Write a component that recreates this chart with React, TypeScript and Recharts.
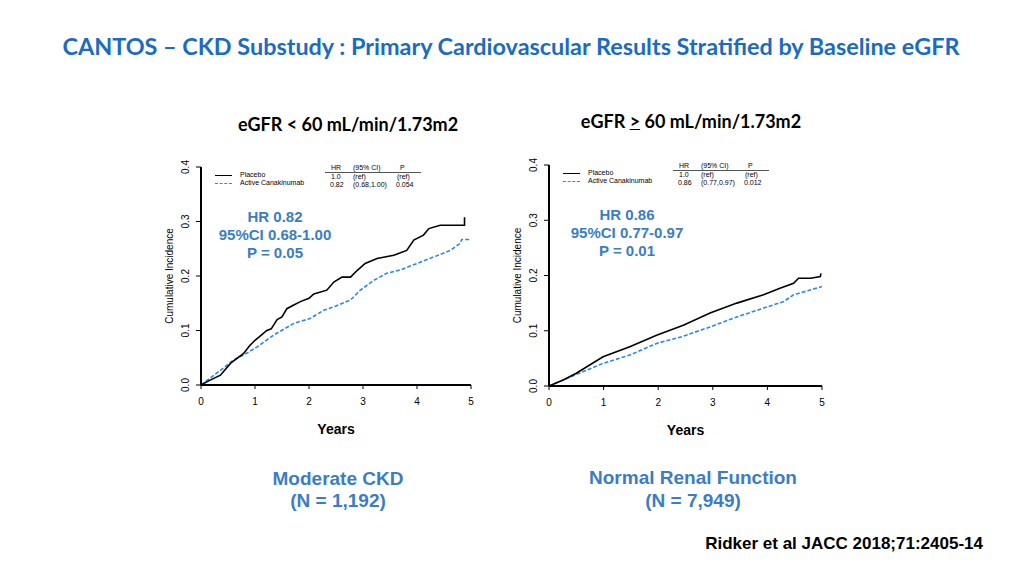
import { Line, LineChart, XAxis, YAxis } from 'recharts';

// Kaplan-Meier style cumulative incidence
const ckdPlaceboYears = [0, 0.15, 0.36, 0.55, 0.79, 0.9, 1.0, 1.1, 1.22, 1.3, 1.41, 1.5, 1.59, 1.7, 1.84, 2.0, 2.09, 2.33, 2.46, 2.61, 2.77, 2.89, 3.04, 3.26, 3.57, 3.81, 3.94, 4.12, 4.22, 4.43, 4.88, 4.88];
const ckdPlaceboRisk = [0, 0.008, 0.018, 0.04, 0.058, 0.072, 0.082, 0.09, 0.1, 0.103, 0.12, 0.125, 0.14, 0.146, 0.153, 0.159, 0.167, 0.174, 0.189, 0.198, 0.198, 0.21, 0.223, 0.232, 0.238, 0.247, 0.266, 0.275, 0.287, 0.293, 0.293, 0.308];
const ckdActiveYears = [0, 0.2, 0.4, 0.6, 0.79, 1.04, 1.35, 1.72, 2.02, 2.27, 2.5, 2.77, 2.95, 3.2, 3.44, 3.69, 4.0, 4.31, 4.62, 4.8, 4.83, 5.0];
const ckdActiveRisk = [0, 0.015, 0.03, 0.046, 0.055, 0.07, 0.092, 0.113, 0.122, 0.137, 0.145, 0.156, 0.174, 0.192, 0.205, 0.211, 0.223, 0.235, 0.247, 0.26, 0.267, 0.267];

const normPlaceboYears = [0, 0.26, 0.5, 0.99, 1.48, 1.97, 2.46, 2.95, 3.44, 3.93, 4.23, 4.48, 4.57, 4.79, 4.97, 4.98];
const normPlaceboRisk = [0, 0.011, 0.023, 0.053, 0.071, 0.092, 0.11, 0.132, 0.15, 0.165, 0.177, 0.186, 0.195, 0.195, 0.198, 0.204];
const normActiveYears = [0, 0.26, 0.99, 1.48, 1.97, 2.46, 2.95, 3.44, 3.93, 4.3, 4.48, 5.0];
const normActiveRisk = [0, 0.011, 0.041, 0.056, 0.077, 0.09, 0.107, 0.125, 0.141, 0.153, 0.165, 0.18];

const yearTicks = [0, 1, 2, 3, 4, 5];
const riskTicks = [0, 0.1, 0.2, 0.3, 0.4];

const toPoints = (years: number[], risk: number[]) => years.map((t, i) => ({ t, v: risk[i] }));

const ARIAL = '"Liberation Sans", Arial, sans-serif';
const CALIBRI = 'Lato, "Open Sans", sans-serif';
const BLUE_TEXT = '#3b7dc4';
const BLUE_LINE = '#2a8ae0';

const RotatedTick = (props: any) => {
  const { x, y, payload } = props;
  const bx = x - 5;
  return (
    <text x={bx} y={y} transform={`rotate(-90 ${bx} ${y})`} textAnchor="middle" fontSize={10} fontFamily={ARIAL} fill="#000">
      {payload.value.toFixed(1)}
    </text>
  );
};

type PanelProps = {
  left: number;
  top: number;
  plotW: number;
  plotH: number;
  placebo: { t: number; v: number }[];
  active: { t: number; v: number }[];
  hr: string;
  ci: string;
  p: string;
  statLines: string[];
  statX: number;
};

const MARGIN = { top: 12, right: 10, bottom: 0, left: 0 };
const Y_W = 45;
const X_H = 30;

function KmPanel({ left, top, plotW, plotH, placebo, active, hr, ci, p, statLines, statX }: PanelProps) {
  const px = left + Y_W;
  const py = top + MARGIN.top;
  const small = { position: 'absolute' as const, fontSize: 7, fontFamily: ARIAL, lineHeight: '8px', whiteSpace: 'nowrap' as const, transform: 'translateY(-50%)' };
  return (
    <>
      <div style={{ position: 'absolute', left, top }}>
        <LineChart width={Y_W + plotW + MARGIN.right} height={MARGIN.top + plotH + X_H} margin={MARGIN}>
          <XAxis
            type="number"
            dataKey="t"
            domain={[0, 5]}
            ticks={yearTicks}
            height={X_H}
            tickSize={4}
            tickMargin={9}
            axisLine={{ stroke: '#000', strokeWidth: 2 }}
            tickLine={{ stroke: '#000' }}
            tick={{ fontSize: 10, fill: '#000', fontFamily: ARIAL }}
          />
          <YAxis
            type="number"
            domain={[0, 0.4]}
            ticks={riskTicks}
            width={Y_W}
            tickSize={5}
            axisLine={{ stroke: '#000', strokeWidth: 2 }}
            tickLine={{ stroke: '#000' }}
            tick={<RotatedTick />}
            label={({ viewBox }: any) => {
              const lx = viewBox.x + 17;
              const ly = viewBox.y + viewBox.height / 2;
              return (
                <text x={lx} y={ly} transform={`rotate(-90 ${lx} ${ly})`} textAnchor="middle" fontSize={10} fontFamily={ARIAL} fill="#000">
                  Cumulative Incidence
                </text>
              );
            }}
          />
          <Line data={active} dataKey="v" type="linear" stroke={BLUE_LINE} strokeWidth={1.6} strokeDasharray="4 2" dot={false} isAnimationActive={false} />
          <Line data={placebo} dataKey="v" type="linear" stroke="#000" strokeWidth={1.6} dot={false} isAnimationActive={false} />
        </LineChart>
      </div>

      {/* legend + HR table */}
      <div style={{ position: 'absolute', left: px + 14, top: py + 8, width: 17, borderTop: '1px solid #000' }} />
      <div style={{ position: 'absolute', left: px + 14, top: py + 16, width: 17, borderTop: `1px dashed ${BLUE_LINE}` }} />
      <div style={{ ...small, left: px + 39, top: py + 8 }}>Placebo</div>
      <div style={{ ...small, left: px + 39, top: py + 16 }}>Active Canakinumab</div>
      <div style={{ ...small, left: px + 130, top: py + 1 }}>HR</div>
      <div style={{ ...small, left: px + 152, top: py + 1 }}>(95% CI)</div>
      <div style={{ ...small, left: px + 199, top: py + 1 }}>P</div>
      <div style={{ position: 'absolute', left: px + 124, top: py + 5, width: 96, borderTop: '1px solid #555' }} />
      <div style={{ ...small, left: px + 130, top: py + 10 }}>1.0</div>
      <div style={{ ...small, left: px + 152, top: py + 10 }}>(ref)</div>
      <div style={{ ...small, left: px + 196, top: py + 10 }}>(ref)</div>
      <div style={{ ...small, left: px + 129, top: py + 18 }}>{hr}</div>
      <div style={{ ...small, left: px + 152, top: py + 18 }}>{ci}</div>
      <div style={{ ...small, left: px + 195, top: py + 18 }}>{p}</div>

      {/* highlighted statistics */}
      <div
        style={{
          position: 'absolute',
          left: px + statX - 100,
          top: py + 41,
          width: 200,
          textAlign: 'center',
          color: BLUE_TEXT,
          fontFamily: ARIAL,
          fontWeight: 700,
          fontSize: 15,
          lineHeight: '18px',
        }}
      >
        {statLines.map((s) => (
          <div key={s}>{s}</div>
        ))}
      </div>

      <div
        style={{
          position: 'absolute',
          left: px + plotW / 2 - 50,
          top: py + plotH + 36,
          width: 100,
          textAlign: 'center',
          fontFamily: ARIAL,
          fontWeight: 700,
          fontSize: 14,
          lineHeight: '16px',
        }}
      >
        Years
      </div>
    </>
  );
}

const centered = (x: number, y: number, w: number) => ({
  position: 'absolute' as const,
  left: x - w / 2,
  top: y,
  width: w,
  textAlign: 'center' as const,
  whiteSpace: 'nowrap' as const,
});

export default function App() {
  return (
    <div style={{ position: 'absolute', left: 0, top: 0, width: 1024, height: 576, background: '#fff', overflow: 'hidden' }}>
      <div style={{ ...centered(511, 31, 1000), color: '#1a6cc0', fontFamily: CALIBRI, fontWeight: 700, fontSize: 23.4, lineHeight: '30px' }}>
        CANTOS – CKD Substudy : Primary Cardiovascular Results Stratified by Baseline eGFR
      </div>

      <div style={{ ...centered(348, 112, 300), fontFamily: CALIBRI, fontWeight: 700, fontSize: 18, lineHeight: '24px' }}>
        eGFR &lt; 60 mL/min/1.73m2
      </div>
      <div style={{ ...centered(691, 109, 300), fontFamily: CALIBRI, fontWeight: 700, fontSize: 18, lineHeight: '24px' }}>
        eGFR <span style={{ textDecoration: 'underline' }}>&gt;</span> 60 mL/min/1.73m2
      </div>

      <KmPanel
        left={156}
        top={155}
        plotW={270}
        plotH={218}
        placebo={toPoints(ckdPlaceboYears, ckdPlaceboRisk)}
        active={toPoints(ckdActiveYears, ckdActiveRisk)}
        hr="0.82"
        ci="(0.68,1.00)"
        p="0.054"
        statLines={['HR 0.82', '95%CI 0.68-1.00', 'P = 0.05']}
        statX={74}
      />
      <KmPanel
        left={504}
        top={153}
        plotW={273}
        plotH={221}
        placebo={toPoints(normPlaceboYears, normPlaceboRisk)}
        active={toPoints(normActiveYears, normActiveRisk)}
        hr="0.86"
        ci="(0.77,0.97)"
        p="0.012"
        statLines={['HR 0.86', '95%CI 0.77-0.97', 'P = 0.01']}
        statX={78}
      />

      <div style={{ ...centered(338, 468, 300), color: BLUE_TEXT, fontFamily: ARIAL, fontWeight: 700, fontSize: 19, lineHeight: '22px' }}>
        <div>Moderate CKD</div>
        <div>(N = 1,192)</div>
      </div>
      <div style={{ ...centered(693, 466, 300), color: BLUE_TEXT, fontFamily: ARIAL, fontWeight: 700, fontSize: 19, lineHeight: '23px' }}>
        <div>Normal Renal Function</div>
        <div>(N = 7,949)</div>
      </div>

      <div style={{ position: 'absolute', right: 41, top: 534, fontFamily: ARIAL, fontWeight: 700, fontSize: 17, lineHeight: '20px', whiteSpace: 'nowrap' }}>
        Ridker et al JACC 2018;71:2405-14
      </div>
    </div>
  );
}
